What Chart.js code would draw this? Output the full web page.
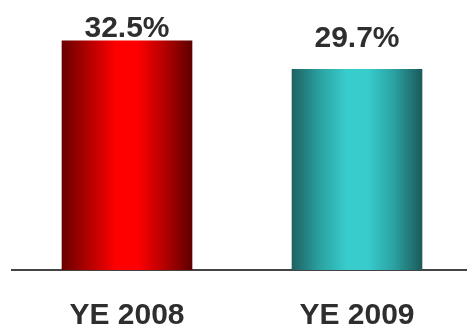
<!DOCTYPE html>
<html>
<head>
<meta charset="utf-8">
<script src="https://cdn.jsdelivr.net/npm/chart.js@4"></script>
<style>
  html, body { margin: 0; padding: 0; background: #fff; overflow: hidden; }
  #wrap { width: 467px; height: 332px; overflow: hidden; }
</style>
</head>
<body>
<div id="wrap"><canvas id="ratioChart" width="472" height="332"></canvas></div>
<script>
const categories = ['YE 2008', 'YE 2009'];
const ratios = [32.5, 29.7];
const valueLabels = ['32.5%', '29.7%'];
// edge / half-way / centre colours for each bar's horizontal shading
const barShades = [
    ['#6a0000', '#b80000', '#ff0000', '#5e0000'],
    ['#1e6262', '#2ba3a3', '#38cccc', '#1c5a5a']
];

const FONT = '"Liberation Sans", Arial, sans-serif';
const BAR_WIDTH = 130;
const TAG_GAP = [4, 22];   // space between a bar top and its percentage

// cylinder-like shading across a bar, built from the x scale position
function barGradient(c) {
    const chart = c.chart;
    const xScale = chart.scales.x;
    const s = barShades[c.dataIndex];
    if (!xScale || !chart.chartArea) return s[2];
    const cx = xScale.getPixelForValue(c.dataIndex);
    const left = cx - BAR_WIDTH / 2;
    const g = chart.ctx.createLinearGradient(left, 0, left + BAR_WIDTH, 0);
    g.addColorStop(0, s[0]);
    g.addColorStop(0.22, s[1]);
    g.addColorStop(0.42, s[2]);
    g.addColorStop(0.58, s[2]);
    g.addColorStop(0.78, s[1]);
    g.addColorStop(1, s[3]);
    return g;
}

// percentage printed above each bar
const valueTags = {
    id: 'valueTags',
    afterDatasetsDraw(chart) {
        const ctx = chart.ctx;
        ctx.save();
        ctx.font = 'bold 30px ' + FONT;
        ctx.fillStyle = '#2e2e2e';
        ctx.textAlign = 'center';
        ctx.textBaseline = 'alphabetic';
        chart.getDatasetMeta(0).data.forEach((bar, i) => {
            ctx.fillText(valueLabels[i], bar.x, bar.y - TAG_GAP[i]);
        });
        ctx.restore();
    }
};

new Chart(document.getElementById('ratioChart'), {
    type: 'bar',
    data: {
        labels: categories,
        datasets: [{
            data: ratios,
            backgroundColor: barGradient,
            borderWidth: 0,
            barThickness: BAR_WIDTH
        }]
    },
    options: {
        responsive: false,
        animation: false,
        layout: { padding: { left: 12, top: 0, right: 0, bottom: 0 } },
        plugins: {
            legend: { display: false },
            tooltip: { enabled: false }
        },
        scales: {
            x: {
                grid: { display: false, drawTicks: false },
                border: { display: true, color: '#444444', width: 2 },
                ticks: {
                    color: '#2e2e2e',
                    padding: 28,
                    font: { family: FONT, size: 30, weight: 'bold' }
                },
                afterFit(scale) { scale.height = 62; }
            },
            y: {
                display: false,
                min: 10,
                max: 36.5
            }
        }
    },
    plugins: [valueTags]
});
</script>
</body>
</html>
